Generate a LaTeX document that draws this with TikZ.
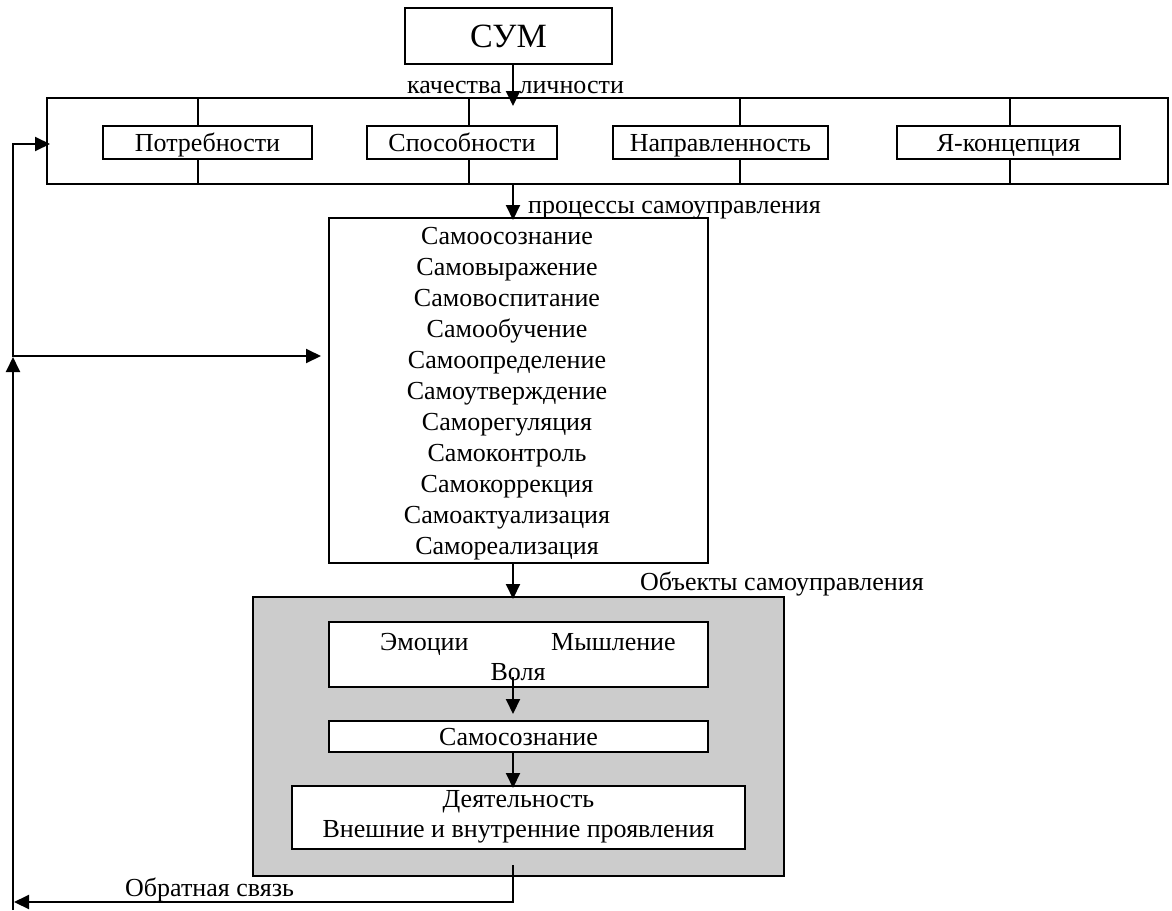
\documentclass[tikz,border=0pt]{standalone}
\usepackage{fontspec}
\setmainfont{Liberation Serif}
\usetikzlibrary{arrows.meta}
\definecolor{shadegray}{HTML}{CCCCCC}
\begin{document}
\begin{tikzpicture}[x=1pt,y=-1pt,
  bx/.style={draw,line width=2pt,inner sep=0pt},
  mtxt/.style={font=\fontsize{26}{31}\selectfont,inner sep=0pt},
  txt/.style={mtxt,text height=22pt,text depth=5pt},
  arr/.style={line width=2pt,-{Triangle[length=15pt,width=14pt]}},
  ln/.style={line width=2pt}]
\useasboundingbox (0,0) rectangle (1172,910);
% top box
\node[bx,minimum width=207pt,minimum height=56pt,font=\fontsize{34}{40}\selectfont] (sum) at (508.5,36) {СУМ};
\node[mtxt,anchor=base west] (kachlbl) at (407,93) {качества\hspace{18pt}личности};
% qualities box
\node[bx,minimum width=1121pt,minimum height=86pt] (kach) at (607.5,141) {};
\node[bx,txt,minimum width=209pt,minimum height=33pt] (potr) at (207.5,142.5) {Потребности};
\node[bx,txt,minimum width=190pt,minimum height=33pt] (spos) at (462,142.5) {Способности};
\node[bx,txt,minimum width=215pt,minimum height=33pt] (napr) at (720.5,142.5) {Направленность};
\node[bx,txt,minimum width=223pt,minimum height=33pt] (ya) at (1008.5,142.5) {Я-концепция};
\foreach \xx in {198,469,740,1010}{
  \draw[ln] (\xx,98) -- (\xx,126);
  \draw[ln] (\xx,159) -- (\xx,184);
}
% processes
\node[bx,minimum width=379pt,minimum height=345pt] (proc) at (518.5,390.5) {};
\node[mtxt,align=center] (proctext) at (507,394) {Самоосознание\\Самовыражение\\Самовоспитание\\Самообучение\\Самоопределение\\Самоутверждение\\Саморегуляция\\Самоконтроль\\Самокоррекция\\Самоактуализация\\Самореализация};
\node[txt,anchor=west] (proclbl) at (528,205) {процессы самоуправления};
% objects
\node[bx,fill=shadegray,minimum width=531pt,minimum height=279pt] (obj) at (518.5,736.5) {};
\node[txt,anchor=west] (objlbl) at (640,582) {Объекты самоуправления};
\node[bx,fill=white,minimum width=379pt,minimum height=65pt] (emo) at (518.5,654.5) {};
\node[txt,anchor=west] (emot) at (380,642) {Эмоции};
\node[txt,anchor=west] (mysh) at (551,642) {Мышление};
\node[txt] (volya) at (518,672) {Воля};
\node[bx,txt,fill=white,minimum width=379pt,minimum height=31pt] (samos) at (518.5,736.5) {Самосознание};
\node[bx,fill=white,minimum width=453pt,minimum height=63pt,mtxt,font=\fontsize{26}{30}\selectfont,align=center] (deyat) at (518.5,817) {Деятельность\\Внешние и внутренние проявления};
\node[txt,anchor=west] (fblbl) at (125,888) {Обратная связь};
% coordinates
\coordinate (a1) at (513,106);
\coordinate (a2) at (513,220);
\coordinate (a3) at (513,599);
\coordinate (a4s) at (513,677);
\coordinate (a4) at (513,714);
\coordinate (a5) at (513,788);
\coordinate (fbs) at (513,865);
\coordinate (fbc) at (513,902);
\coordinate (fbe) at (14,902);
\coordinate (lb) at (13,910);
\coordinate (lu) at (13,357);
\coordinate (lt) at (13,144);
\coordinate (lte) at (50,144);
\coordinate (lm) at (13,356);
\coordinate (lme) at (321,356);
% arrows
\draw[arr] (sum.south -| a1) -- (a1);
\draw[arr] (kach.south -| a2) -- (a2);
\draw[arr] (proc.south -| a3) -- (a3);
\draw[arr] (a4s) -- (a4);
\draw[arr] (samos.south -| a5) -- (a5);
\draw[arr] (fbs) -- (fbc) -- (fbe);
\draw[arr] (lb) -- (lu);
\draw[arr] (lu) -- (lt) -- (lte);
\draw[arr] (lm) -- (lme);
\end{tikzpicture}
\end{document}
